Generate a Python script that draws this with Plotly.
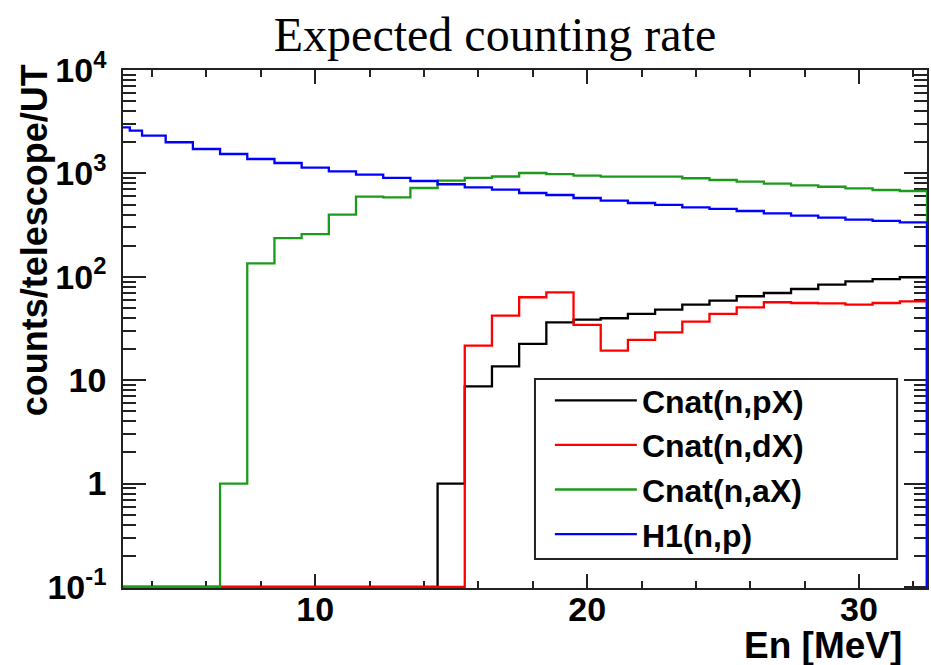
import plotly.graph_objects as go

# ---- data ----
# bin edges in MeV (1 MeV bins, first bin clipped by the axis start)
edges = [2.93] + [k + 0.5 for k in range(3, 33)]
# H1(n,p) has two narrower bins at the low end
edges_h1 = [2.93, 3.18, 3.63] + [k + 0.5 for k in range(4, 33)]

floor = 0.1  # empty bins are drawn on the axis minimum

cnat_px = [floor] * 12 + [1, 8.7, 13.6, 22.4, 36.3, 38.5, 39.7, 43.7, 48.1, 53.7,
                         58.7, 64.8, 69.7, 76.2, 83.9, 90.4, 95, 99]
cnat_dx = [floor] * 13 + [21.6, 42.1, 63.4, 70.8, 34.2, 19.3, 24.5, 29.0, 36.8,
                         43.7, 50.7, 56.7, 55.8, 55.4, 53.7, 55.8, 57.9]
cnat_ax = [floor] * 4 + [1, 135, 237, 259, 399, 596, 587, 722, 850, 903, 933,
                        1009, 986, 950, 929, 929, 929, 897, 863, 831, 795, 767,
                        743, 717, 691, 676]
h1_np = [2790, 2590, 2317, 2000, 1722, 1541, 1378, 1261, 1136, 1048, 971, 903,
         844, 785, 734, 696, 646, 618, 578, 545, 517, 495, 470, 453, 433, 411,
         390, 373, 357, 347, 336]

series = [
    ("Cnat(n,pX)", edges, cnat_px, "#000000"),
    ("Cnat(n,dX)", edges, cnat_dx, "#ff0000"),
    ("Cnat(n,aX)", edges, cnat_ax, "#1c9a1c"),
    ("H1(n,p)", edges_h1, h1_np, "#0000ff"),
]

y_ticks = [0.1, 1, 10, 100, 1000, 10000]
y_ticktext = ["10<sup>-1</sup>", "1", "10", "10<sup>2</sup>", "10<sup>3</sup>", "10<sup>4</sup>"]
y_minor = [k * 10.0 ** p for p in range(-1, 4) for k in range(2, 10)]
x_ticks = [10, 20, 30]

fig = go.Figure()
for name, e, v, col in series:
    # step outline: each bin value held to the next edge, then closing down at the last edge
    xs = list(e[:-1]) + [e[-1], e[-1]]
    ys = list(v) + [v[-1], floor]
    fig.add_trace(go.Scatter(x=xs, y=ys, mode="lines", name=name,
                             line=dict(color=col, width=2.3, shape="hv")))

axis_font = dict(family="Liberation Sans", size=34, color="black", weight="bold")

fig.update_layout(
    width=931, height=665,
    margin=dict(l=123, r=2, t=70, b=77),
    paper_bgcolor="white", plot_bgcolor="white",
    title=dict(text="Expected counting rate", x=495 / 931, xanchor="center",
               yref="container", y=1 - 34 / 665, yanchor="middle",
               font=dict(family="Liberation Serif", size=48, color="black")),
    xaxis=dict(range=[2.93, 32.5], tickvals=x_ticks, ticks="inside", ticklen=14,
               tickwidth=1.5, tickcolor="#222", showline=True, linecolor="#222",
               linewidth=1.5, mirror="ticks", showgrid=False, zeroline=False,
               tickfont=axis_font, ticklabelstandoff=-10, layer="below traces",
               minor=dict(dtick=2, ticks="inside", ticklen=7, tickwidth=1.5,
                          tickcolor="#222", showgrid=False)),
    yaxis=dict(type="log", range=[-1.01, 4], tickvals=y_ticks, ticktext=y_ticktext,
               ticks="inside", ticklen=23, tickwidth=1.5, tickcolor="#222",
               showline=True, linecolor="#222", linewidth=1.5, mirror="ticks",
               showgrid=False, zeroline=False, tickfont=axis_font,
               ticklabelstandoff=8, layer="below traces",
               minor=dict(tickvals=y_minor, ticks="inside", ticklen=13, tickwidth=1.5,
                          tickcolor="#222", showgrid=False)),
    showlegend=True,
    legend=dict(x=(559 - 123) / 806 - 0.01, y=(588 - 373) / 518, xanchor="left",
                yanchor="top", bgcolor="rgba(0,0,0,0)", borderwidth=0,
                font=dict(family="Liberation Sans", size=32, color="black", weight="bold"),
                itemwidth=82, tracegroupgap=0),
)

# legend frame
fig.add_shape(type="rect", xref="paper", yref="paper",
              x0=(536 - 123) / 806, x1=(899 - 123) / 806,
              y0=(588 - 559) / 518, y1=(588 - 379) / 518,
              line=dict(color="#222", width=2), fillcolor="rgba(0,0,0,0)", layer="above")

# axis titles
fig.add_annotation(text="counts/telescope/UT", xref="paper", yref="paper",
                   x=(34 - 123) / 806, y=(588 - 240) / 518, textangle=-90,
                   showarrow=False, xanchor="center", yanchor="middle",
                   font=dict(family="Liberation Sans", size=36, color="black", weight="bold"))
fig.add_annotation(text="En [MeV]", xref="paper", yref="paper",
                   x=(906 - 123) / 806, y=(588 - 645) / 518, showarrow=False,
                   xanchor="right", yanchor="middle",
                   font=dict(family="Liberation Sans", size=37, color="black", weight="bold"))

fig.write_html("out.html")
